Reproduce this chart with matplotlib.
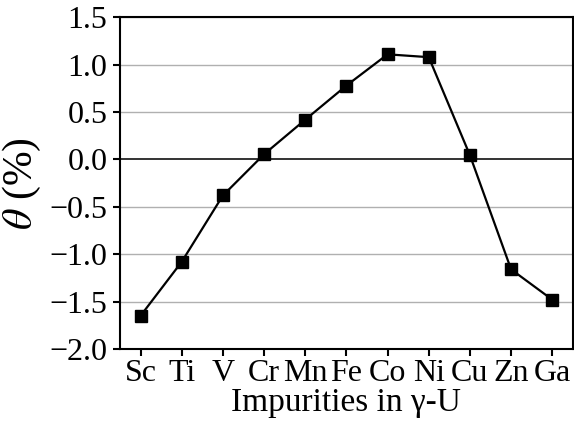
import matplotlib
matplotlib.use("Agg")
import matplotlib.pyplot as plt

elements = ["Sc", "Ti", "V", "Cr", "Mn", "Fe", "Co", "Ni", "Cu", "Zn", "Ga"]
theta = [-1.65, -1.08, -0.38, 0.055, 0.42, 0.78, 1.11, 1.08, 0.045, -1.16, -1.48]
yticks = [-2.0, -1.5, -1.0, -0.5, 0.0, 0.5, 1.0, 1.5]

plt.rcParams['font.family'] = ['Liberation Serif', 'DejaVu Serif']
plt.rcParams['mathtext.fontset'] = 'stix'

fig = plt.figure(figsize=(5.74, 4.24), dpi=100)
ax = fig.add_axes([0.209, 0.177, 0.789, 0.782])

x = list(range(len(elements)))
for yt in yticks:
    if yt == 0.0:
        ax.axhline(yt, color='#333333', lw=1.4, zorder=1)
    else:
        ax.axhline(yt, color='#b0b0b0', lw=1.0, zorder=1)

ax.plot(x, theta, color='black', lw=1.6, marker='s', markersize=9, zorder=3)

ax.set_xlim(-0.5, len(elements) - 0.5)
ax.set_ylim(-2.0, 1.5)
ax.set_yticks(yticks)
ax.set_yticklabels([f"{v:.1f}".replace('-', '\u2212') for v in yticks])
ax.set_xticks(x)
ax.set_xticklabels(elements)
ax.tick_params(axis='both', labelsize=23, width=1.5, length=5, direction='out', pad=4)
ax.tick_params(axis='x', pad=2)
for s in ax.spines.values():
    s.set_linewidth(1.5)
ax.set_xlabel("Impurities in \u03b3-U", fontsize=24, labelpad=0)
ax.set_ylabel(r"$\theta$ (%)", fontsize=30, labelpad=5)

fig.savefig("out.png", dpi=100)
